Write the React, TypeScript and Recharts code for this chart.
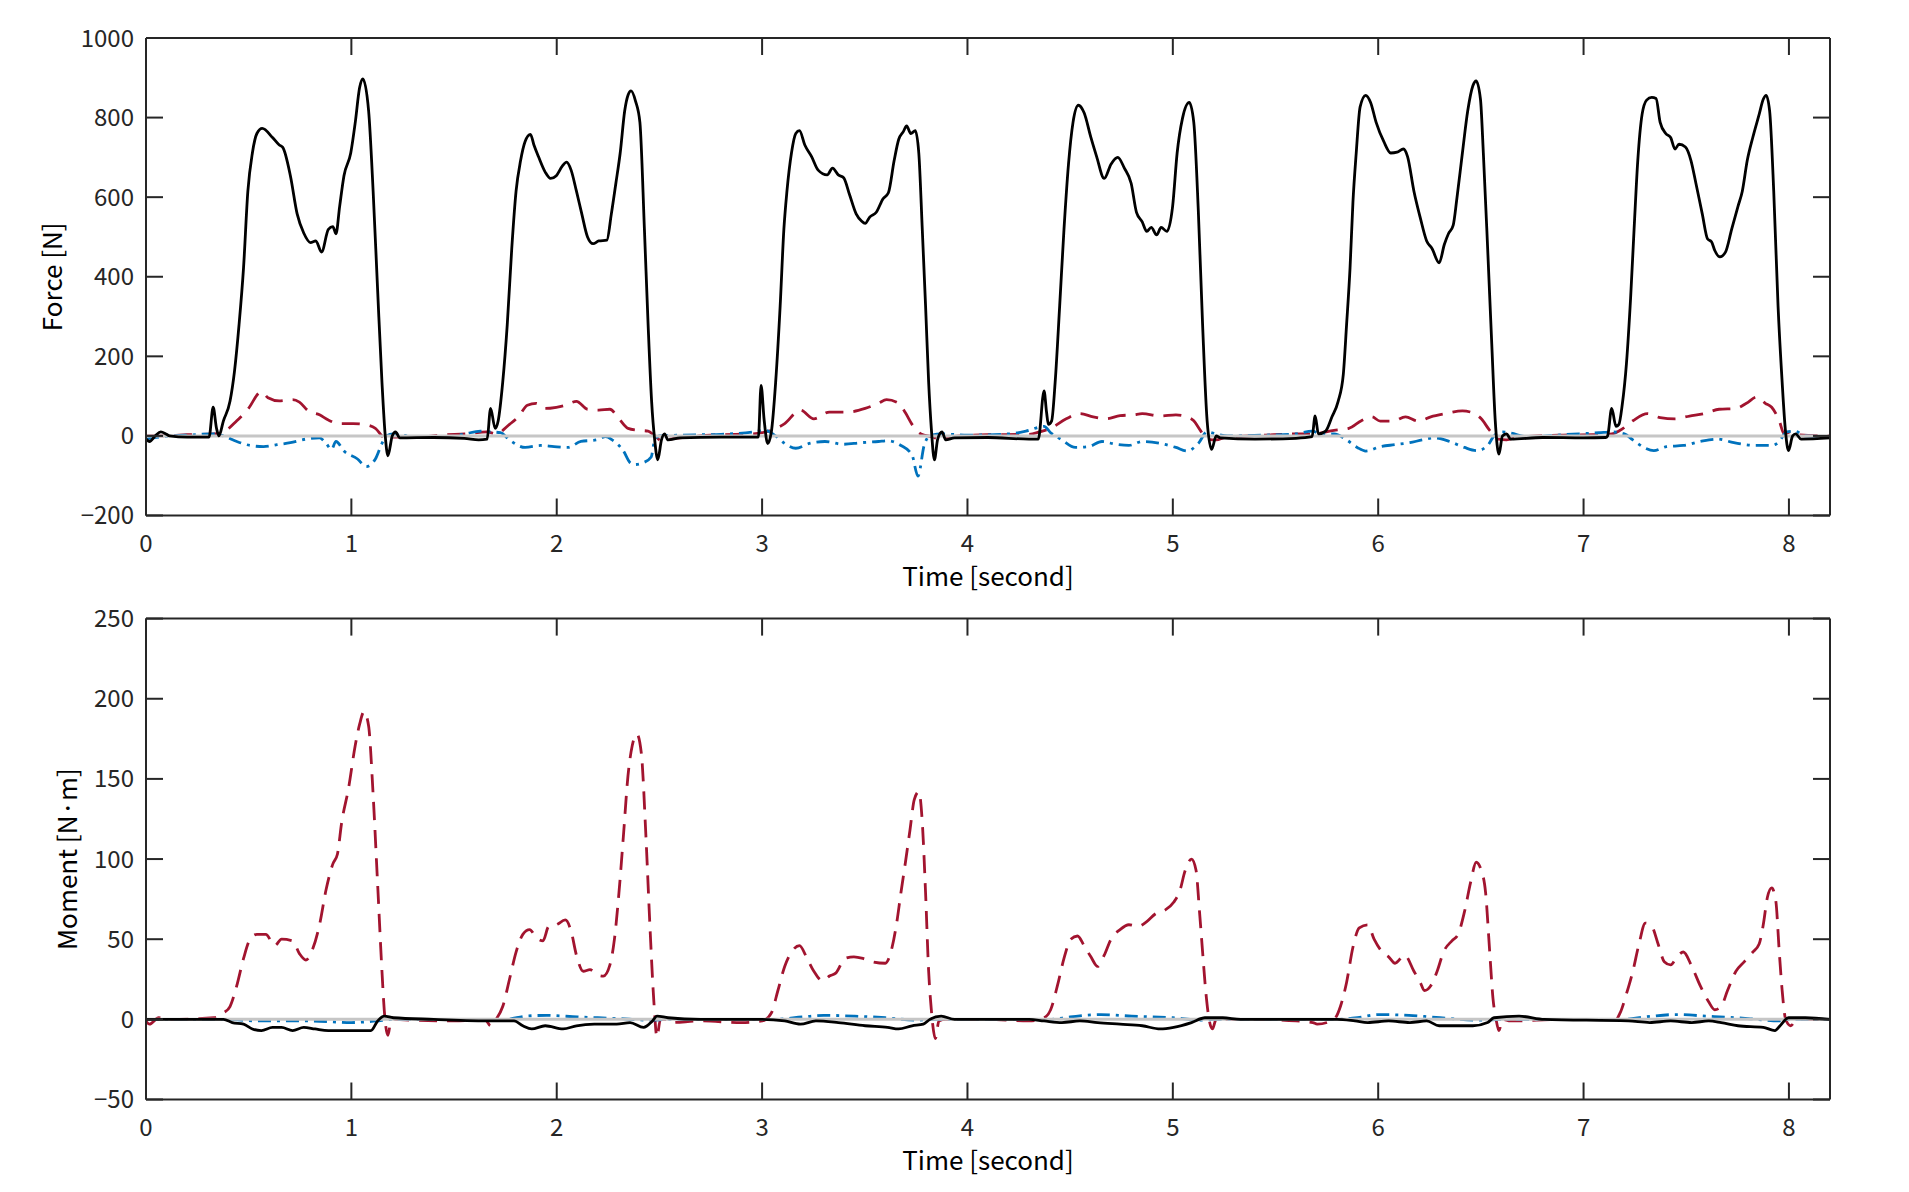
import React from 'react';
import { LineChart, Line, XAxis, YAxis } from 'recharts';

// ---- data: [time (s), value] ----
const timeTicks = [0, 1, 2, 3, 4, 5, 6, 7, 8];
const forceTicks = [-200, 0, 200, 400, 600, 800, 1000];
const momentTicks = [-50, 0, 50, 100, 150, 200, 250];

const forceBlack: number[][] = [
  [0,-8],[0.017,-14],[0.045,0],[0.072,10],[0.1,4],[0.115,0],[0.2,-3],[0.307,-3],[0.327,72],[0.343,20],[0.355,0],[0.377,38],[0.409,87],[0.431,163],[0.453,279],[0.475,423],[0.496,615],[0.518,711],[0.540,760],[0.566,773],[0.616,750],[0.649,731],[0.666,725],[0.703,654],[0.736,558],[0.768,510],[0.801,486],[0.827,490],[0.855,462],[0.888,519],[0.910,526],[0.925,508],[0.943,577],[0.964,654],[0.997,711],[1.019,788],[1.040,875],[1.056,897],[1.084,817],[1.106,615],[1.128,365],[1.149,135],[1.165,0],[1.178,-50],[1.199,0],[1.215,10],[1.236,-5],[1.4,-4],[1.55,-6],[1.62,-10],[1.661,-8],[1.678,69],[1.700,19],[1.715,38],[1.737,135],[1.759,279],[1.781,471],[1.802,615],[1.824,692],[1.846,740],[1.872,758],[1.889,731],[1.911,702],[1.944,663],[1.970,647],[1.998,654],[2.027,678],[2.048,688],[2.070,668],[2.096,615],[2.122,558],[2.150,500],[2.177,483],[2.205,490],[2.244,492],[2.266,558],[2.288,635],[2.309,711],[2.331,817],[2.347,856],[2.362,867],[2.384,841],[2.405,788],[2.427,519],[2.445,279],[2.462,87],[2.477,-10],[2.492,-60],[2.510,-10],[2.525,5],[2.542,-10],[2.6,-5],[2.8,-3],[2.982,-3],[2.995,127],[3.010,40],[3.027,-19],[3.045,10],[3.066,135],[3.088,327],[3.106,519],[3.121,615],[3.143,711],[3.164,760],[3.182,767],[3.208,731],[3.241,702],[3.273,668],[3.317,656],[3.343,673],[3.371,656],[3.397,649],[3.426,606],[3.458,558],[3.484,540],[3.502,534],[3.524,550],[3.556,562],[3.589,596],[3.615,611],[3.643,692],[3.665,745],[3.687,764],[3.704,779],[3.724,760],[3.746,767],[3.763,711],[3.780,519],[3.796,327],[3.811,135],[3.824,19],[3.839,-60],[3.855,-8],[3.876,10],[3.894,-10],[3.937,-5],[4.1,-4],[4.3,-8],[4.345,-8],[4.373,113],[4.385,60],[4.394,29],[4.410,38],[4.427,135],[4.449,327],[4.470,519],[4.492,683],[4.514,788],[4.540,831],[4.568,812],[4.601,750],[4.629,702],[4.666,647],[4.699,683],[4.732,700],[4.764,673],[4.797,635],[4.823,562],[4.851,538],[4.873,514],[4.895,524],[4.921,505],[4.943,524],[4.971,514],[4.999,577],[5.021,711],[5.047,798],[5.080,838],[5.102,788],[5.124,567],[5.145,279],[5.167,38],[5.189,-34],[5.211,0],[5.232,-5],[5.4,-8],[5.6,-6],[5.678,-2],[5.693,50],[5.709,5],[5.744,12],[5.775,48],[5.805,87],[5.830,154],[5.846,279],[5.863,423],[5.877,587],[5.893,711],[5.912,827],[5.939,856],[5.963,838],[5.990,788],[6.027,740],[6.061,711],[6.092,713],[6.123,721],[6.143,702],[6.174,615],[6.205,548],[6.236,490],[6.262,471],[6.297,435],[6.322,481],[6.342,508],[6.365,529],[6.383,596],[6.410,711],[6.436,817],[6.461,880],[6.477,892],[6.498,846],[6.512,711],[6.533,471],[6.553,231],[6.570,38],[6.588,-46],[6.605,0],[6.625,5],[6.645,-8],[6.8,-4],[7.0,-5],[7.107,-4],[7.117,0],[7.137,69],[7.158,24],[7.172,29],[7.188,77],[7.209,183],[7.229,346],[7.246,519],[7.264,692],[7.285,808],[7.307,844],[7.332,851],[7.353,848],[7.373,788],[7.400,760],[7.424,750],[7.445,721],[7.465,733],[7.496,726],[7.523,692],[7.547,635],[7.578,558],[7.604,495],[7.623,488],[7.639,466],[7.664,450],[7.691,462],[7.721,519],[7.752,577],[7.773,615],[7.797,692],[7.824,750],[7.855,808],[7.875,846],[7.889,856],[7.906,817],[7.926,615],[7.947,327],[7.967,135],[7.982,19],[7.998,-37],[8.018,0],[8.033,5],[8.059,-8],[8.2,-5],
];

const forceRed: number[][] = [
  [0,0],[0.1,0],[0.2,3],[0.33,5],[0.377,10],[0.442,38],[0.496,67],[0.562,111],[0.594,96],[0.649,88],[0.714,91],[0.747,85],[0.790,63],[0.845,53],[0.888,40],[0.943,31],[1.008,31],[1.062,29],[1.117,19],[1.149,0],[1.171,-10],[1.2,-3],[1.35,-2],[1.45,3],[1.552,5],[1.661,10],[1.704,5],[1.770,29],[1.813,48],[1.857,77],[1.900,82],[1.944,69],[1.998,72],[2.042,77],[2.096,87],[2.150,67],[2.205,65],[2.259,67],[2.303,43],[2.347,19],[2.401,14],[2.445,12],[2.477,0],[2.510,-12],[2.553,-8],[2.65,-2],[2.8,3],[2.95,5],[3.0,8],[3.045,14],[3.110,31],[3.186,65],[3.252,43],[3.328,60],[3.415,60],[3.502,69],[3.567,82],[3.606,91],[3.665,82],[3.698,58],[3.730,29],[3.774,5],[3.829,-2],[3.872,-10],[3.92,-2],[4.1,3],[4.3,4],[4.351,10],[4.405,19],[4.481,43],[4.547,56],[4.612,48],[4.677,43],[4.743,51],[4.808,53],[4.851,56],[4.939,50],[5.015,53],[5.069,48],[5.102,38],[5.134,14],[5.167,-8],[5.211,-10],[5.26,-3],[5.45,2],[5.6,5],[5.682,5],[5.785,14],[5.857,19],[5.918,38],[5.969,48],[6.010,37],[6.072,37],[6.133,48],[6.195,37],[6.256,48],[6.328,56],[6.410,63],[6.461,58],[6.502,43],[6.543,14],[6.584,-8],[6.625,-10],[6.68,-3],[6.9,2],[7.05,3],[7.137,5],[7.178,14],[7.240,38],[7.311,56],[7.373,46],[7.445,43],[7.516,50],[7.588,56],[7.660,67],[7.742,69],[7.793,82],[7.844,98],[7.885,82],[7.916,72],[7.953,38],[7.977,5],[8.008,10],[8.039,3],[8.2,0],
];

const forceBlue: number[][] = [
  [0,-8],[0.06,-3],[0.2,2],[0.33,5],[0.377,0],[0.442,-14],[0.507,-24],[0.572,-27],[0.638,-22],[0.703,-17],[0.779,-8],[0.845,-5],[0.877,-19],[0.903,-34],[0.925,-14],[0.964,-38],[1.030,-58],[1.073,-77],[1.117,-58],[1.149,-19],[1.171,0],[1.204,5],[1.3,-2],[1.45,-3],[1.552,5],[1.628,12],[1.683,10],[1.726,8],[1.770,-10],[1.846,-29],[1.922,-24],[1.987,-27],[2.053,-29],[2.118,-14],[2.194,-10],[2.238,-2],[2.270,-10],[2.325,-38],[2.357,-67],[2.379,-72],[2.423,-67],[2.460,-53],[2.477,-10],[2.499,0],[2.6,2],[2.8,4],[2.958,10],[3.012,14],[3.066,0],[3.110,-19],[3.164,-31],[3.230,-19],[3.306,-14],[3.393,-21],[3.480,-17],[3.567,-14],[3.611,-12],[3.676,-24],[3.730,-48],[3.759,-101],[3.789,-24],[3.817,0],[3.872,5],[4.0,2],[4.2,5],[4.285,12],[4.373,24],[4.405,8],[4.460,-10],[4.525,-29],[4.590,-27],[4.655,-14],[4.721,-21],[4.786,-24],[4.851,-14],[4.939,-19],[5.015,-29],[5.069,-38],[5.124,-19],[5.167,10],[5.211,5],[5.265,0],[5.45,2],[5.6,5],[5.679,12],[5.722,5],[5.785,5],[5.846,-10],[5.898,-29],[5.939,-38],[6.010,-27],[6.082,-22],[6.154,-17],[6.215,-10],[6.277,-5],[6.348,-14],[6.420,-29],[6.482,-37],[6.533,-24],[6.564,0],[6.605,10],[6.645,7],[6.727,-2],[6.9,3],[7.076,8],[7.137,10],[7.199,5],[7.240,-10],[7.301,-31],[7.342,-37],[7.404,-27],[7.486,-24],[7.568,-14],[7.650,-8],[7.732,-17],[7.834,-24],[7.916,-24],[7.953,-14],[7.988,10],[8.029,12],[8.080,0],[8.2,-2],
];

const momentRed: number[][] = [
  [0,-1],[0.017,-3],[0.061,1],[0.115,0],[0.333,1],[0.377,4],[0.409,8],[0.442,21],[0.475,38],[0.507,50],[0.540,53],[0.583,53],[0.627,46],[0.660,50],[0.714,49],[0.747,41],[0.779,37],[0.812,44],[0.845,59],[0.877,81],[0.910,97],[0.932,103],[0.953,123],[0.986,144],[1.019,171],[1.040,184],[1.062,192],[1.084,183],[1.106,140],[1.128,84],[1.149,30],[1.160,6],[1.178,-10],[1.195,1],[1.215,0],[1.5,-1],[1.65,0],[1.678,-4],[1.704,0],[1.737,8],[1.770,25],[1.802,42],[1.835,53],[1.868,56],[1.900,51],[1.933,49],[1.961,58],[1.998,59],[2.042,62],[2.070,55],[2.096,40],[2.129,30],[2.162,31],[2.194,28],[2.227,27],[2.259,34],[2.281,50],[2.303,79],[2.325,115],[2.347,152],[2.368,171],[2.390,178],[2.412,166],[2.434,115],[2.455,55],[2.473,11],[2.488,-11],[2.505,0],[2.532,0],[2.553,-2],[2.7,-1],[2.9,-2],[3.0,-1],[3.045,4],[3.077,18],[3.110,33],[3.143,42],[3.182,46],[3.219,38],[3.252,30],[3.295,24],[3.328,27],[3.360,29],[3.404,38],[3.447,39],[3.491,38],[3.534,36],[3.600,35],[3.633,45],[3.654,59],[3.676,79],[3.698,98],[3.720,118],[3.741,137],[3.763,142],[3.780,123],[3.796,79],[3.811,30],[3.824,6],[3.844,-12],[3.861,-1],[3.894,0],[4.1,0],[4.3,-1],[4.373,1],[4.405,6],[4.438,21],[4.470,38],[4.503,50],[4.536,52],[4.568,46],[4.601,39],[4.634,33],[4.666,40],[4.699,50],[4.743,56],[4.786,59],[4.830,58],[4.873,61],[4.917,66],[4.960,68],[5.004,73],[5.036,81],[5.058,92],[5.091,100],[5.113,93],[5.130,67],[5.145,42],[5.160,18],[5.178,-1],[5.193,-6],[5.211,0],[5.4,0],[5.600,-1],[5.682,-2],[5.703,-3],[5.785,0],[5.816,8],[5.846,23],[5.877,45],[5.908,57],[5.949,59],[5.980,50],[6.020,42],[6.051,39],[6.082,35],[6.129,40],[6.174,30],[6.205,23],[6.225,18],[6.256,21],[6.287,30],[6.318,42],[6.359,49],[6.389,53],[6.420,67],[6.451,86],[6.477,98],[6.502,93],[6.523,79],[6.543,42],[6.559,13],[6.574,0],[6.588,-7],[6.605,0],[6.645,-1],[6.9,0],[7.158,0],[7.178,4],[7.209,16],[7.240,30],[7.270,47],[7.301,60],[7.332,58],[7.363,47],[7.393,36],[7.424,34],[7.455,39],[7.486,42],[7.527,33],[7.568,21],[7.609,11],[7.639,6],[7.670,8],[7.701,18],[7.742,30],[7.783,36],[7.824,42],[7.855,47],[7.875,59],[7.895,76],[7.916,82],[7.936,74],[7.953,42],[7.967,18],[7.984,0],[8.008,-4],[8.039,0],[8.2,0],
];

const momentBlack: number[][] = [
  [0,0],[0.377,0],[0.420,-2],[0.475,-3],[0.518,-6],[0.562,-7],[0.616,-5],[0.660,-5],[0.714,-7],[0.768,-5],[0.823,-6],[0.888,-7],[0.943,-7],[1.030,-7],[1.095,-7],[1.128,-1],[1.160,2],[1.204,1],[1.4,0],[1.683,-1],[1.792,-1],[1.835,-4],[1.878,-6],[1.944,-4],[2.031,-6],[2.096,-4],[2.183,-3],[2.292,-3],[2.357,-2],[2.423,-5],[2.466,-1],[2.488,2],[2.542,1],[2.7,0],[3.0,0],[3.110,-1],[3.186,-3],[3.262,-1],[3.371,-2],[3.502,-4],[3.611,-5],[3.665,-6],[3.730,-4],[3.785,-3],[3.817,0],[3.872,2],[3.937,0],[4.3,0],[4.373,-1],[4.460,-2],[4.547,-1],[4.634,-2],[4.743,-3],[4.851,-4],[4.939,-6],[5.004,-5],[5.091,-2],[5.156,1],[5.243,1],[5.330,0],[5.8,0],[5.887,-1],[5.949,-2],[6.051,-1],[6.154,-2],[6.236,-1],[6.297,-4],[6.379,-4],[6.461,-4],[6.533,-2],[6.564,1],[6.686,2],[6.809,0],[7.219,-1],[7.322,-2],[7.424,-1],[7.527,-2],[7.609,-1],[7.670,-2],[7.752,-4],[7.875,-5],[7.932,-7],[7.957,-4],[7.998,1],[8.080,1],[8.2,0],
];

const momentBlue: number[][] = [
  [0,0],[0.38,0],[0.55,-1],[0.8,-1],[1.0,-2],[1.12,-1],[1.2,0],[1.75,0],[1.85,2],[1.95,2.5],[2.1,1.5],[2.3,0.5],[2.45,-0.5],[2.55,0],[3.05,0],[3.2,1.5],[3.3,2.5],[3.45,2],[3.6,1],[3.75,-0.5],[3.85,0],[4.4,0],[4.5,1.5],[4.65,3],[4.8,2],[5.0,1],[5.15,-0.5],[5.2,0],[5.8,0],[5.9,1],[6.0,3],[6.15,2.5],[6.3,1],[6.5,-0.5],[6.6,0],[7.2,0],[7.3,1.5],[7.45,3],[7.6,2],[7.8,0.5],[7.95,-1],[8.0,0],[8.2,0],
];

const zeroLine: number[][] = [[0, 0], [8.2, 0]];

// ---- styling ----
const FONT = '"Noto Sans CJK JP", "Noto Sans", sans-serif';
const AXIS = '#262626';
const BLACK = '#000000';
const RED = '#A2142F';
const BLUE = '#0072BD';
const GREY = '#C6C6C6';
const TICK_LEN = 17;
const LW = 2.8;

const toPts = (arr: number[][]) => arr.map(([t, v]) => ({ t, v }));
const fmt = (v: number) => (v < 0 ? '\u2212' + Math.abs(v) : String(v));
const EmptyTick = () => <g />;

type Series = { data: number[][]; color: string; dash?: string; width?: number };

function Panel({
  height, margin, yDomain, yTicks, yLabel, labelOffset, series,
}: {
  height: number;
  margin: { top: number; right: number; bottom: number; left: number };
  yDomain: [number, number];
  yTicks: number[];
  yLabel: string;
  labelOffset: number;
  series: Series[];
}) {
  const tickStyle = { fontSize: 24, fill: AXIS, fontFamily: FONT };
  const tl = { stroke: AXIS, strokeWidth: 2 };
  return (
    <LineChart width={1909} height={height} margin={margin}>
      <XAxis
        xAxisId="b" type="number" dataKey="t" domain={[0, 8.2]} ticks={timeTicks}
        allowDataOverflow height={80} tickLine={false} tickSize={0} tickMargin={19}
        tick={tickStyle} axisLine={tl}
        label={{ value: 'Time [second]', position: 'insideBottom', offset: 10, fontSize: 26, fill: '#000', fontFamily: FONT }}
      />
      <XAxis
        xAxisId="bm" type="number" dataKey="t" domain={[0, 8.2]} ticks={timeTicks}
        allowDataOverflow mirror orientation="bottom" tick={EmptyTick} tickSize={TICK_LEN}
        tickLine={tl} axisLine={false}
      />
      <XAxis
        xAxisId="tm" type="number" dataKey="t" domain={[0, 8.2]} ticks={timeTicks}
        allowDataOverflow mirror orientation="top" tick={EmptyTick} tickSize={TICK_LEN}
        tickLine={tl} axisLine={tl}
      />
      <YAxis
        yAxisId="l" type="number" domain={yDomain} ticks={yTicks} allowDataOverflow
        width={146} tickLine={false} tickSize={0} tickMargin={12} tick={tickStyle}
        tickFormatter={fmt} axisLine={tl}
        label={{ value: yLabel, angle: -90, position: 'insideLeft', offset: labelOffset, fontSize: 26, fill: '#000', fontFamily: FONT, style: { textAnchor: 'middle' } }}
      />
      <YAxis
        yAxisId="lm" type="number" domain={yDomain} ticks={yTicks} allowDataOverflow
        mirror orientation="left" tick={EmptyTick} tickSize={TICK_LEN}
        tickLine={tl} axisLine={false}
      />
      <YAxis
        yAxisId="rm" type="number" domain={yDomain} ticks={yTicks} allowDataOverflow
        mirror orientation="right" tick={EmptyTick} tickSize={TICK_LEN}
        tickLine={tl} axisLine={tl}
      />
      {series.map((s, i) => (
        <Line
          key={i} xAxisId="b" yAxisId="l" data={toPts(s.data)} dataKey="v" type="monotone"
          stroke={s.color} strokeWidth={s.width ?? LW} strokeDasharray={s.dash} dot={false}
          activeDot={false} isAnimationActive={false} strokeLinejoin="round"
        />
      ))}
    </LineChart>
  );
}

export default function App() {
  return (
    <div style={{ position: 'absolute', left: 0, top: 0, width: 1909, height: 1192, background: '#fff' }}>
      <Panel
        height={600}
        margin={{ top: 38, right: 79, bottom: 4.5, left: 0 }}
        yDomain={[-200, 1000]}
        yTicks={forceTicks}
        yLabel="Force [N]"
        labelOffset={53}
        series={[
          { data: forceRed, color: RED, dash: '18 10' },
          { data: forceBlue, color: BLUE, dash: '13 6 3 6' },
          { data: zeroLine, color: GREY, width: 3 },
          { data: forceBlack, color: BLACK },
        ]}
      />
      <Panel
        height={592}
        margin={{ top: 18.6, right: 79, bottom: 12.5, left: 0 }}
        yDomain={[-50, 250]}
        yTicks={momentTicks}
        yLabel="Moment [N·m]"
        labelOffset={68}
        series={[
          { data: momentRed, color: RED, dash: '18 10' },
          { data: momentBlue, color: BLUE, dash: '13 6 3 6' },
          { data: zeroLine, color: GREY, width: 3 },
          { data: momentBlack, color: BLACK },
        ]}
      />
    </div>
  );
}
